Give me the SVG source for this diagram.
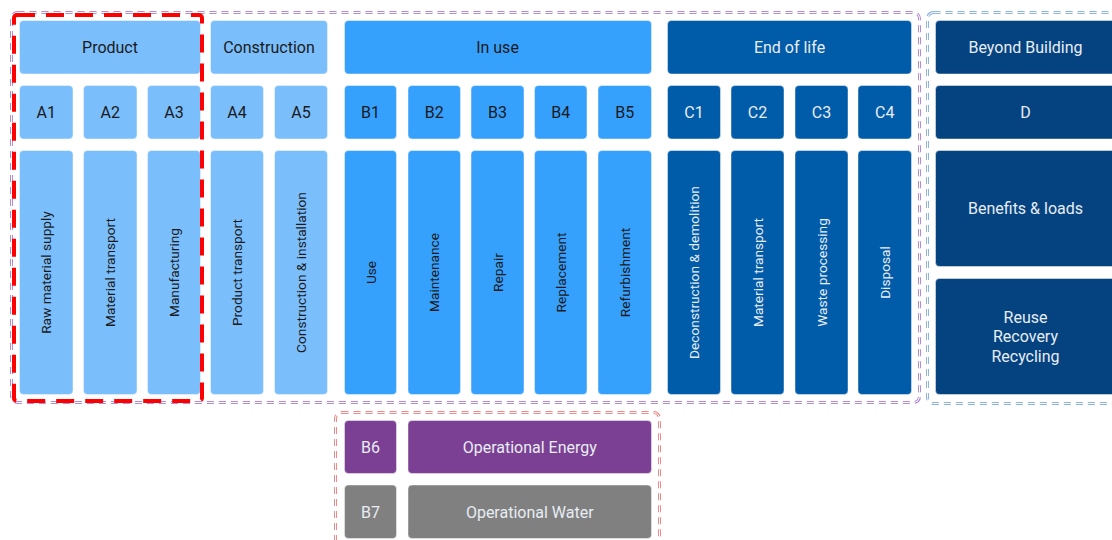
<svg xmlns="http://www.w3.org/2000/svg" width="1112" height="540" viewBox="0 0 1112 540">
<style>
  .box{stroke:#ffffff;stroke-opacity:0.45;stroke-width:1}
  .lb{fill:#7bbefc}
  .mb{fill:#36a0fd}
  .db{fill:#005ba8}
  .nb{fill:#044380}
  .pu{fill:#7b4093}
  .gr{fill:#808080}
  text{font-family:Roboto,"Liberation Sans",sans-serif;text-anchor:middle;dominant-baseline:central}
  .t16{font-size:16px}
  .t14{font-size:13.7px}
  .dk{fill:#1a1a1a}
  .lt{fill:#e8edf4}
  .fo{fill:none;stroke-width:3;stroke-dasharray:7 5}
  .fi{fill:none;stroke:#ffffff;stroke-width:1;stroke-dasharray:7 5}
</style>
<rect width="1112" height="540" fill="#ffffff"/>
<g id="frames">
  <rect x="11.5" y="12.5" width="908" height="390" rx="6" class="fo" stroke="#b48cd2"/>
  <rect x="11.5" y="12.5" width="908" height="390" rx="6" class="fi"/>
  <rect x="927.5" y="12.5" width="200" height="391" rx="6" class="fo" stroke="#8db4dc"/>
  <rect x="927.5" y="12.5" width="200" height="391" rx="6" class="fi"/>
  <rect x="335.5" y="412.5" width="324" height="150" rx="6" class="fo" stroke="#f08a8a"/>
  <rect x="335.5" y="412.5" width="324" height="150" rx="6" class="fi"/>
</g>
<g id="connectors"></g>
<g id="product"><rect class="box lb" x="19.5" y="20.5" width="181" height="53.5" rx="4"/><text class="t16 dk" x="110" y="47.5">Product</text></g>
<g id="construction"><rect class="box lb" x="210.5" y="20.5" width="117" height="53.5" rx="4"/><text class="t16 dk" x="269" y="47.5">Construction</text></g>
<g id="inuse"><rect class="box mb" x="344.5" y="20.5" width="307" height="53.5" rx="4"/><text class="t16 dk" x="497.5" y="47.5">In use</text></g>
<g id="endoflife"><rect class="box db" x="667.5" y="20.5" width="244" height="53.5" rx="4"/><text class="t16 lt" x="789.5" y="47.5">End of life</text></g>
<g id="beyond"><rect class="box nb" x="935.5" y="20.5" width="180" height="53.5" rx="4"/><text class="t16 lt" x="1025.5" y="47.5">Beyond Building</text></g>

<g id="A1"><rect class="box lb" x="19.5" y="85.5" width="53.5" height="53.5" rx="4"/><text class="t16 dk" x="46.25" y="112.5">A1</text><rect class="box lb" x="19.5" y="150.5" width="53.5" height="244" rx="4"/><text class="t14 dk" transform="translate(46.25 272.5) rotate(-90)">Raw material supply</text></g>
<g id="A2"><rect class="box lb" x="83.5" y="85.5" width="53.5" height="53.5" rx="4"/><text class="t16 dk" x="110.25" y="112.5">A2</text><rect class="box lb" x="83.5" y="150.5" width="53.5" height="244" rx="4"/><text class="t14 dk" transform="translate(110.25 272.5) rotate(-90)">Material transport</text></g>
<g id="A3"><rect class="box lb" x="147.5" y="85.5" width="53" height="53.5" rx="4"/><text class="t16 dk" x="174" y="112.5">A3</text><rect class="box lb" x="147.5" y="150.5" width="53" height="244" rx="4"/><text class="t14 dk" transform="translate(174 272.5) rotate(-90)">Manufacturing</text></g>
<g id="A4"><rect class="box lb" x="210.5" y="85.5" width="53" height="53.5" rx="4"/><text class="t16 dk" x="237" y="112.5">A4</text><rect class="box lb" x="210.5" y="150.5" width="53" height="244" rx="4"/><text class="t14 dk" transform="translate(237 272.5) rotate(-90)">Product transport</text></g>
<g id="A5"><rect class="box lb" x="274.5" y="85.5" width="53" height="53.5" rx="4"/><text class="t16 dk" x="301" y="112.5">A5</text><rect class="box lb" x="274.5" y="150.5" width="53" height="244" rx="4"/><text class="t14 dk" transform="translate(301 272.5) rotate(-90)">Construction &amp; installation</text></g>

<g id="B1"><rect class="box mb" x="344.5" y="85.5" width="52" height="53.5" rx="4"/><text class="t16 dk" x="370.5" y="112.5">B1</text><rect class="box mb" x="344.5" y="150.5" width="52" height="244" rx="4"/><text class="t14 dk" transform="translate(370.5 272.5) rotate(-90)">Use</text></g>
<g id="B2"><rect class="box mb" x="408" y="85.5" width="52.5" height="53.5" rx="4"/><text class="t16 dk" x="434.25" y="112.5">B2</text><rect class="box mb" x="408" y="150.5" width="52.5" height="244" rx="4"/><text class="t14 dk" transform="translate(434.25 272.5) rotate(-90)">Maintenance</text></g>
<g id="B3"><rect class="box mb" x="471" y="85.5" width="53" height="53.5" rx="4"/><text class="t16 dk" x="497.5" y="112.5">B3</text><rect class="box mb" x="471" y="150.5" width="53" height="244" rx="4"/><text class="t14 dk" transform="translate(497.5 272.5) rotate(-90)">Repair</text></g>
<g id="B4"><rect class="box mb" x="534.5" y="85.5" width="52.5" height="53.5" rx="4"/><text class="t16 dk" x="560.75" y="112.5">B4</text><rect class="box mb" x="534.5" y="150.5" width="52.5" height="244" rx="4"/><text class="t14 dk" transform="translate(560.75 272.5) rotate(-90)">Replacement</text></g>
<g id="B5"><rect class="box mb" x="598" y="85.5" width="53.5" height="53.5" rx="4"/><text class="t16 dk" x="624.75" y="112.5">B5</text><rect class="box mb" x="598" y="150.5" width="53.5" height="244" rx="4"/><text class="t14 dk" transform="translate(624.75 272.5) rotate(-90)">Refurbishment</text></g>

<g id="C1"><rect class="box db" x="667.5" y="85.5" width="53" height="53.5" rx="4"/><text class="t16 lt" x="694" y="112.5">C1</text><rect class="box db" x="667.5" y="150.5" width="53" height="244" rx="4"/><text class="t14 lt" transform="translate(694 272.5) rotate(-90)">Deconstruction &amp; demolition</text></g>
<g id="C2"><rect class="box db" x="731" y="85.5" width="53" height="53.5" rx="4"/><text class="t16 lt" x="757.5" y="112.5">C2</text><rect class="box db" x="731" y="150.5" width="53" height="244" rx="4"/><text class="t14 lt" transform="translate(757.5 272.5) rotate(-90)">Material transport</text></g>
<g id="C3"><rect class="box db" x="795" y="85.5" width="53" height="53.5" rx="4"/><text class="t16 lt" x="821.5" y="112.5">C3</text><rect class="box db" x="795" y="150.5" width="53" height="244" rx="4"/><text class="t14 lt" transform="translate(821.5 272.5) rotate(-90)">Waste processing</text></g>
<g id="C4"><rect class="box db" x="858" y="85.5" width="53.5" height="53.5" rx="4"/><text class="t16 lt" x="884.75" y="112.5">C4</text><rect class="box db" x="858" y="150.5" width="53.5" height="244" rx="4"/><text class="t14 lt" transform="translate(884.75 272.5) rotate(-90)">Disposal</text></g>

<g id="D"><rect class="box nb" x="935.5" y="85.5" width="180" height="53.5" rx="4"/><text class="t16 lt" x="1025.5" y="112.5">D</text></g>
<g id="benefits"><rect class="box nb" x="935.5" y="150.5" width="180" height="116" rx="4"/><text class="t16 lt" x="1025.5" y="208.5">Benefits &amp; loads</text></g>
<g id="reuse"><rect class="box nb" x="935.5" y="278.5" width="180" height="116" rx="4"/><text class="t16 lt" x="1025.5" y="317">Reuse</text><text class="t16 lt" x="1025.5" y="336.5">Recovery</text><text class="t16 lt" x="1025.5" y="356">Recycling</text></g>

<g id="B6"><rect class="box pu" x="344.5" y="420.5" width="52" height="53" rx="4"/><text class="t16 lt" x="370.5" y="447">B6</text></g>
<g id="opEnergy"><rect class="box pu" x="408" y="420.5" width="243.5" height="53" rx="4"/><text class="t16 lt" x="529.75" y="447">Operational Energy</text></g>
<g id="B7"><rect class="box gr" x="344.5" y="485" width="52" height="53.5" rx="4"/><text class="t16 lt" x="370.5" y="512">B7</text></g>
<g id="opWater"><rect class="box gr" x="408" y="485" width="243.5" height="53.5" rx="4"/><text class="t16 lt" x="529.75" y="512">Operational Water</text></g>

<g id="productFrame"><rect x="14" y="15" width="188" height="386" rx="3" fill="none" stroke="#ff0000" stroke-width="4" stroke-dasharray="18 11"/></g>
</svg>
